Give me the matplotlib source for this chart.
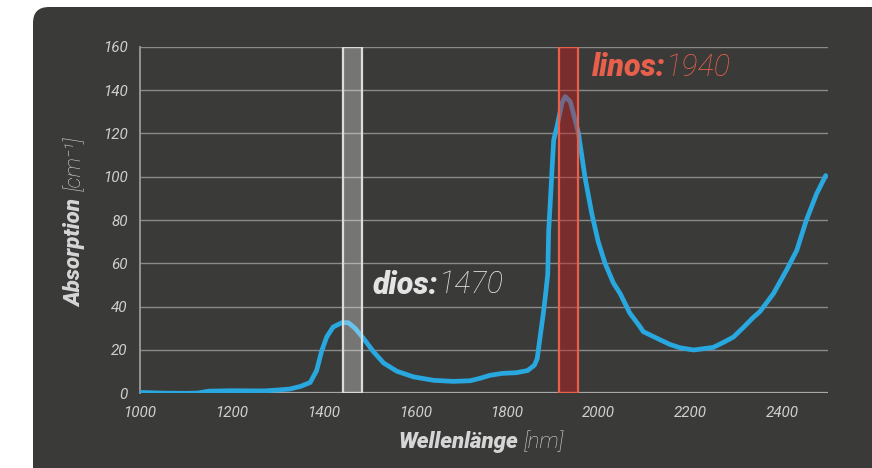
import matplotlib
matplotlib.use("Agg")
import matplotlib.pyplot as plt
from matplotlib.patches import FancyBboxPatch, Rectangle

# absorption spectrum of water
wavelength = [1000, 1050, 1100, 1125, 1150, 1200, 1270, 1305, 1327, 1350,
              1371, 1385, 1396, 1407, 1421, 1440, 1454, 1469, 1487, 1509,
              1531, 1560, 1596, 1640, 1683, 1720, 1741, 1763, 1790, 1820,
              1845, 1860, 1866, 1873, 1880, 1885, 1889, 1891, 1895, 1899,
              1902, 1909, 1920, 1927, 1938, 1949, 1956, 1970, 1985, 1999,
              2014, 2032, 2047, 2068, 2090, 2097, 2127, 2156, 2178, 2207,
              2250, 2272, 2294, 2316, 2337, 2352, 2381, 2410, 2432, 2453,
              2475, 2495]
absorption = [0.4, 0.1, 0.0, 0.1, 1.0, 1.2, 1.1, 1.6, 2.0, 3.2,
              5.0, 10.5, 19.5, 26, 30.6, 32.6, 32.6, 30, 25.4, 19.2,
              14, 10.2, 7.6, 6.0, 5.5, 5.8, 6.9, 8.3, 9.2, 9.5,
              10.5, 13, 16, 27, 38, 47, 55, 75, 90, 106,
              117, 123, 134, 137, 134.7, 126, 120, 100, 83, 70,
              60, 51, 46, 37, 30.8, 28.5, 25.4, 22.5, 21, 20,
              21.2, 23.5, 26, 30.5, 35, 37.8, 46, 57, 66, 80,
              92, 100.5]

# laser bands
dios_band = (1442, 1484)
linos_band = (1913, 1956)
x_ticks = [1000, 1200, 1400, 1600, 1800, 2000, 2200, 2400]
y_ticks = [0, 20, 40, 60, 80, 100, 120, 140, 160]

FONT = ['Roboto', 'DejaVu Sans']
panel_color = '#3a3a39'
text_grey = '#d6d6d6'
red = '#e8604c'

fig = plt.figure(figsize=(8.72, 4.68), dpi=100)
fig.patch.set_facecolor('white')

# dark rounded panel behind the chart
panel = FancyBboxPatch((0.33, -0.5), 9.0, 5.11,
                       boxstyle="round,pad=0,rounding_size=0.16",
                       transform=fig.dpi_scale_trans,
                       facecolor=panel_color, edgecolor='none', zorder=-10)
fig.patches.append(panel)

ax = fig.add_axes([0.1606, 0.1596, 0.7889, 0.7406])
ax.patch.set_alpha(0)

ax.plot(wavelength, absorption, color='#29a8e0', lw=3.4,
        solid_capstyle='round', solid_joinstyle='round', zorder=3)

# bands over the curve
ax.add_patch(Rectangle((dios_band[0], 0), dios_band[1] - dios_band[0], 160,
                       facecolor='white', alpha=0.3, edgecolor='none', zorder=4))
ax.add_patch(Rectangle((dios_band[0], 0), dios_band[1] - dios_band[0], 160,
                       facecolor='none', edgecolor='#dcdcdc', lw=1.6, zorder=5))
ax.add_patch(Rectangle((linos_band[0], 0), linos_band[1] - linos_band[0], 160,
                       facecolor='#c81e1e', alpha=0.45, edgecolor='none', zorder=4))
ax.add_patch(Rectangle((linos_band[0], 0), linos_band[1] - linos_band[0], 160,
                       facecolor='none', edgecolor=red, lw=1.6, zorder=5))

ax.set_xlim(1000, 2500)
ax.set_ylim(0, 160)
ax.set_xticks(x_ticks)
ax.set_yticks(y_ticks)
ax.grid(axis='y', color='#8a8a8a', lw=1.0)
ax.set_axisbelow(True)
for s in ['top', 'right', 'bottom']:
    ax.spines[s].set_visible(False)
ax.spines['left'].set_color('#9a9a9a')
ax.spines['left'].set_linewidth(1.3)
ax.axhline(0, color='#a8a8a8', lw=1.6, zorder=2)
ax.tick_params(length=0, pad=9, labelcolor='#cfcfcf', labelsize=11)
for lab in ax.get_xticklabels() + ax.get_yticklabels():
    lab.set_family(FONT)
    lab.set_style('italic')
    lab.set_weight('normal')

# band labels
t1 = ax.text(1508, 50, 'dios:', color='#e4e4e4', fontsize=22, family=FONT,
             style='italic', weight='heavy', va='center', zorder=6)
ax.annotate('1470', xy=(1, 0.5), xycoords=t1, va='center', ha='left',
            color='#e4e4e4', fontsize=22, family=FONT, style='italic',
            weight='light', zorder=6)
t2 = ax.text(1985, 150.5, 'linos:', color=red, fontsize=22, family=FONT,
             style='italic', weight='heavy', va='center', zorder=6)
ax.annotate('1940', xy=(1, 0.5), xycoords=t2, va='center', ha='left',
            color=red, fontsize=22, family=FONT, style='italic',
            weight='light', zorder=6)

# axis labels
fig.text(0.594, 0.0556, 'Wellenlänge', color=text_grey, fontsize=16,
         family=FONT, style='italic', weight='heavy', ha='right', va='center')
fig.text(0.601, 0.0556, '[nm]', color=text_grey, fontsize=16,
         family=FONT, style='italic', weight='light', ha='left', va='center')
fig.text(0.086, 0.3447, 'Absorption', color=text_grey, fontsize=16,
         family=FONT, style='italic', weight='heavy', rotation=90,
         ha='center', va='bottom')
fig.text(0.086, 0.592, '[cm⁻¹]', color=text_grey, fontsize=16,
         family=FONT, style='italic', weight='light', rotation=90,
         ha='center', va='bottom')

fig.savefig('out.png', dpi=100)
